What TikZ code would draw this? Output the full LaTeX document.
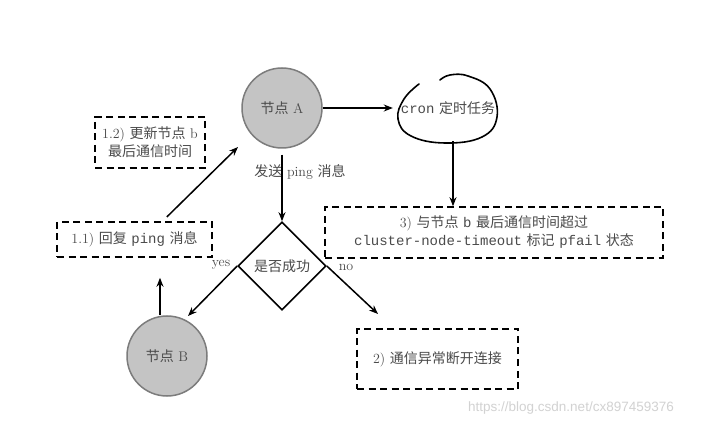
\documentclass[tikz,border=0pt]{standalone}
\usepackage{fontspec}
\newfontfamily\cjk{Noto Sans CJK SC}
\newfontfamily\wmfont{Liberation Sans}
\newfontfamily\mono{Liberation Mono}
\usetikzlibrary{shapes.geometric,arrows.meta}
\definecolor{txt}{HTML}{4A4A4A}
\definecolor{nodefill}{HTML}{C4C4C4}
\definecolor{nodeline}{HTML}{7C7C7C}
\definecolor{wm}{HTML}{D2D2D2}
\tikzset{
  tfont/.style={font=\fontsize{14}{18}\selectfont},
  gnode/.style={circle,draw=nodeline,fill=nodefill,line width=1.5pt,minimum size=80pt,inner sep=0pt,text=txt,tfont},
  dbox/.style={draw=black,line width=1.6pt,dash pattern=on 7pt off 4.5pt,inner sep=0pt,text=txt,tfont,align=center},
  conn/.style={line width=1.5pt,-{Stealth[length=9pt,width=7pt]}},
  lbl/.style={text=txt,tfont,inner sep=1pt}
}
\begin{document}
\begin{tikzpicture}[x=1pt,y=-1pt]
\useasboundingbox (0,0) rectangle (701,427);
\fill[white] (0,0) rectangle (701,427);
% nodes
\node[gnode] (A) at (282,108) {{\cjk 节点} A};
\node[gnode] (B) at (167,356) {{\cjk 节点} B};
\node[minimum width=100pt,minimum height=66pt,inner sep=0pt,text=txt,tfont] (cron) at (448,108) {{\mono cron} {\cjk 定时任务}};
\draw[line width=1.6pt,line cap=round] plot[smooth,tension=0.7] coordinates {(419,84) (404,99) (398,119) (411,136) (445,143) (482,137) (497,117) (490,89) (468,76) (450,75) (440,80)};
\node[shape=diamond,aspect=1,draw=black,line width=1.6pt,minimum size=88pt,inner sep=0pt,text=txt,tfont] (D) at (282,266) {\cjk 是否成功};
\node[dbox,minimum width=338pt,minimum height=51pt] (b3) at (494,232.5) {3) {\cjk 与节点} {\mono b} {\cjk 最后通信时间超过}\\{\mono cluster-node-timeout} {\cjk 标记} {\mono pfail} {\cjk 状态}};
\node[dbox,minimum width=161pt,minimum height=60pt] (b2) at (437.5,359) {2) {\cjk 通信异常断开连接}};
\node[dbox,minimum width=155pt,minimum height=35pt] (b11) at (134.5,239.5) {1.1) {\cjk 回复} {\mono ping} {\cjk 消息}};
\node[dbox,minimum width=110pt,minimum height=51pt] (b12) at (150,142.5) {1.2) {\cjk 更新节点} b\\{\cjk 最后通信时间}};
% labels
\node[lbl] (send) at (300,172) {{\cjk 发送} ping {\cjk 消息}};
\node[lbl] (yes) at (221,265) {yes};
\node[lbl] (no) at (346,267) {no};
\node[text=wm,font=\wmfont\fontsize{13.5}{16}\selectfont,inner sep=0pt] (wmk) at (571,408) {https://blog.csdn.net/cx897459376};
% coordinates
\coordinate (yesend) at (188,316);
\coordinate (noend) at (378,314);
\coordinate (aend) at (238,147);
% connectors
\draw[conn] (A.east) -- ([xshift=-5pt]cron.west);
\draw[conn] ([xshift=5pt]cron.south) -- ([xshift=5pt]cron.south |- b3.north);
\draw[conn,shorten <=6pt] (A.south) -- (D.north);
\draw[conn] (D.west) -- (yesend);
\draw[conn] (D.east) -- (noend);
\draw[conn,shorten >=20pt] ([xshift=-7pt]B.north) -- ([xshift=-7pt]B.north |- b11.south);
\draw[conn,shorten <=6pt] ([xshift=28pt]b11.north) -- (aend);
\end{tikzpicture}
\end{document}
